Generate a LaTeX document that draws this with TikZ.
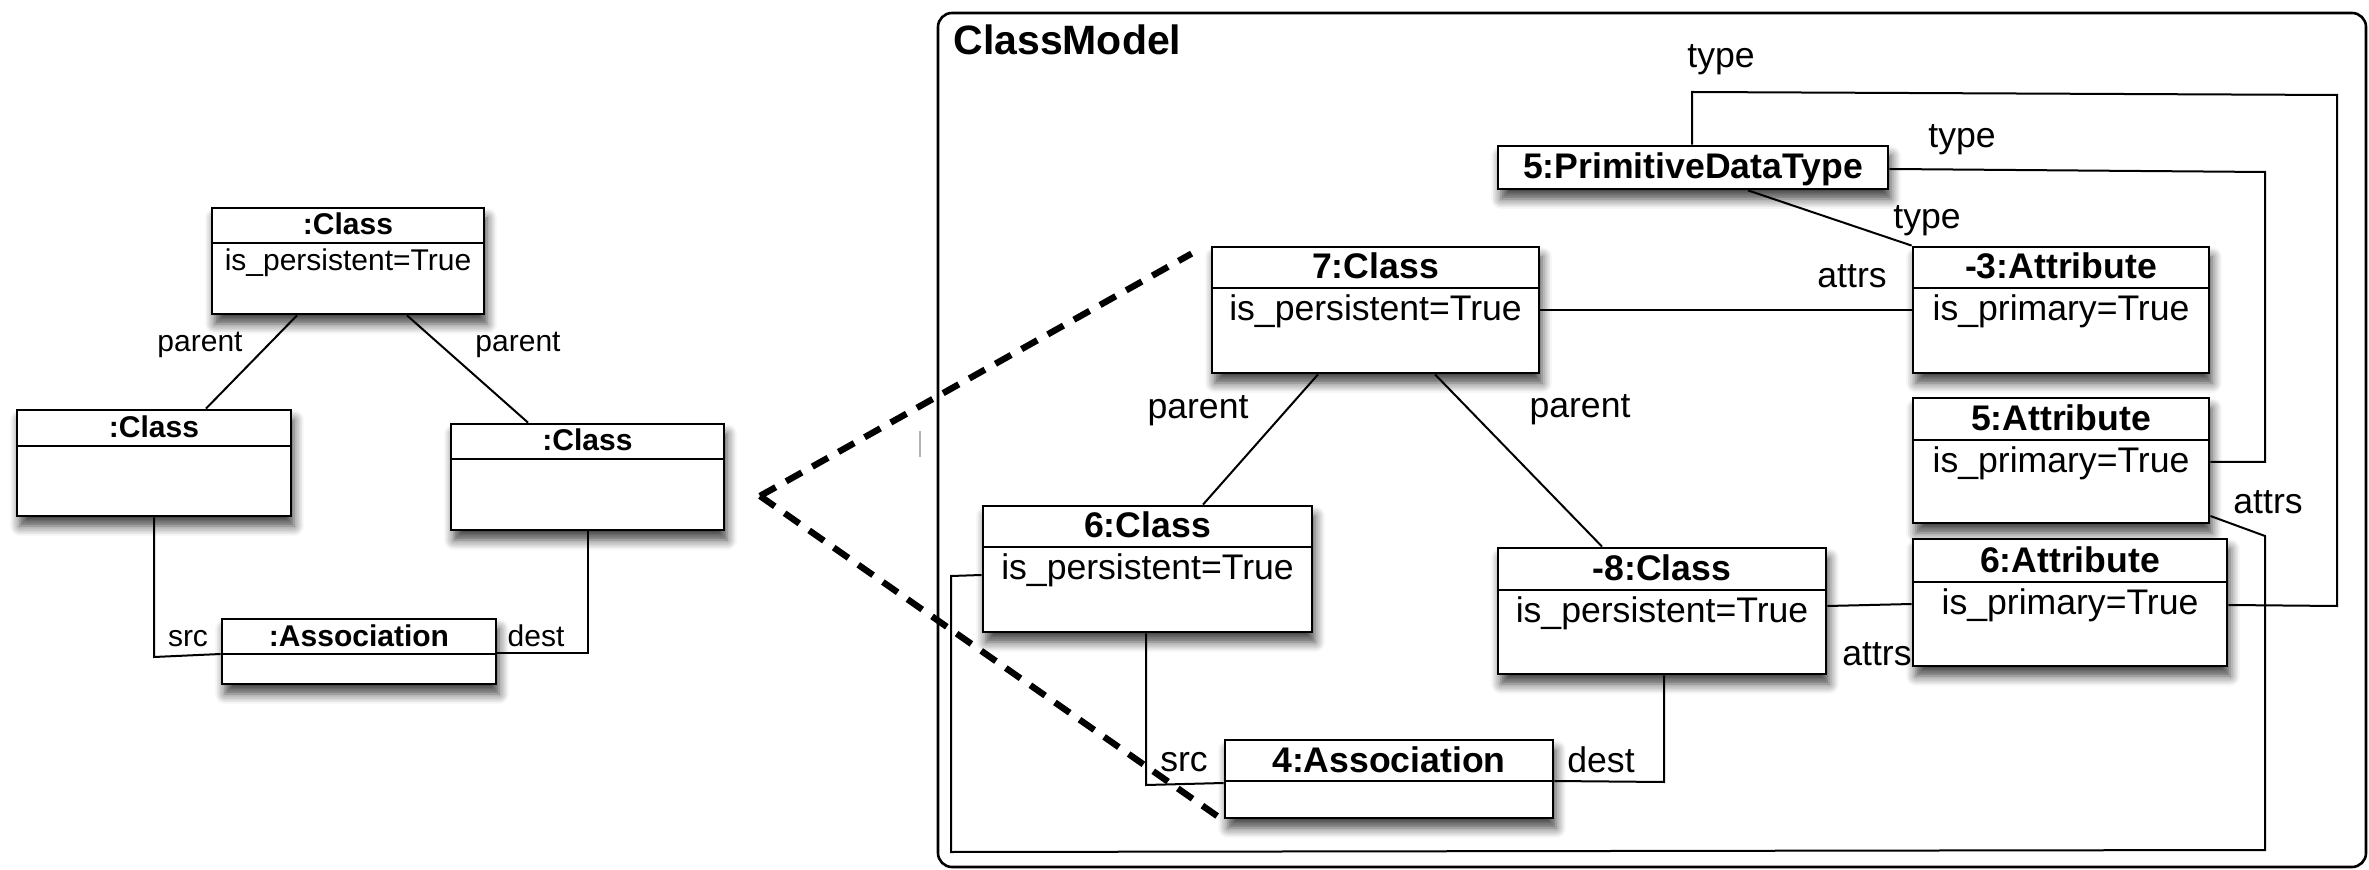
\documentclass[tikz,border=0pt]{standalone}
\usepackage{fontspec}
\setmainfont{Liberation Sans}
\usetikzlibrary{fit,shadows.blur}

% one unit = 0.5pt, y grows downwards
\tikzset{
  objframe/.style={draw, fill=white, line width=1.4pt, inner sep=0pt,
    blur shadow={shadow xshift=1.5pt, shadow yshift=-5pt,
                 shadow blur radius=5pt, shadow blur steps=6, shadow opacity=75}},
  sepline/.style={line width=1.4pt},
  link/.style={line width=1pt},
  objtitle/.style={anchor=base, inner sep=0pt, font=\objfont\bfseries},
  objattr/.style={anchor=base, inner sep=0pt, font=\objfont},
  lbl/.style={anchor=base, inner sep=0pt, font=\objfont},
  zoomline/.style={line width=3.2pt, dash pattern=on 9pt off 6pt},
  modelframe/.style={draw, line width=1.3pt, rounded corners=7pt, inner sep=0pt},
}

% object box: name, x1, y1, x2, y2, separator y, title, attribute
\newcommand\objbox[8]{%
  \node[objframe, fit={(#2,#3) (#4,#5)}] (#1) {};
  \draw[sepline] (#1.west |- 0,#6) -- (#1.east |- 0,#6);
  \pgfmathsetmacro\tyy{#6-\titleoff}%
  \pgfmathsetmacro\ayy{#6+\attroff}%
  \node[objtitle] (#1-t) at (#1.center |- 0,\tyy) {#7};
  \node[objattr] (#1-a) at (#1.center |- 0,\ayy) {#8};
}

\begin{document}
\begin{tikzpicture}[x=0.5pt, y=-0.5pt]
\useasboundingbox (0,0) rectangle (2369,870);

% ---------- pattern on the left ----------
\def\objfont{\fontsize{15}{18}\selectfont}
\def\titleoff{8}
\def\attroff{28}
\objbox{lcT}{212}{208}{484}{314}{243}{:Class}{is\_persistent=True}
\objbox{lcL}{17}{410}{291}{516}{446}{:Class}{}
\objbox{lcR}{451}{424}{724}{530}{459}{:Class}{}
\objbox{lAs}{222}{619}{496}{684}{654}{:Association}{}

\draw[link] (297,0 |- lcT.south) -- (206,0 |- lcL.north);
\draw[link] (407,0 |- lcT.south) -- (528,0 |- lcR.north);
\draw[link] (lcL.south -| 154,0) -- (154,657) -- (lAs.west |- 0,654);
\draw[link] (lcR.south -| 588,0) -- (588,653) -- (lAs.east |- 0,653);

\node[lbl] (lp1) at (200,352) {parent};
\node[lbl] (lp2) at (518,352) {parent};
\node[lbl] (lsrc) at (188,646) {src};
\node[lbl] (ldest) at (536,646) {dest};

% ---------- class model on the right ----------
\node[modelframe, fit={(938,13) (2366,867)}] (model) {};
\node[anchor=base west, inner sep=0pt, font=\fontsize{20.5}{24}\selectfont\bfseries]
  (model-t) at (953,55) {ClassModel};

\def\objfont{\fontsize{17.8}{21}\selectfont}
\def\titleoff{9}
\def\attroff{32.5}
\objbox{c7}{1212}{247}{1539}{373}{288}{7:Class}{is\_persistent=True}
\objbox{a3}{1913}{247}{2209}{373}{288}{-3:Attribute}{is\_primary=True}
\objbox{a5}{1913}{398}{2209}{523}{440}{5:Attribute}{is\_primary=True}
\objbox{a6}{1913}{539}{2227}{666}{582}{6:Attribute}{is\_primary=True}
\objbox{c6}{983}{506}{1312}{632}{547}{6:Class}{is\_persistent=True}
\objbox{c8}{1498}{548}{1826}{674}{590}{-8:Class}{is\_persistent=True}
\objbox{as4}{1225}{740}{1553}{818}{781}{4:Association}{}
\node[objframe, fit={(1498,146) (1888,189)}] (pdt) {};
\node[objtitle] (pdt-t) at (pdt.center |- 0,179) {5:PrimitiveDataType};

% type links
\draw[link] (1692,0 |- pdt.north) -- (1692,92) -- (2337,95) -- (2337,606) -- (a6.east |- 0,605);
\draw[link] (pdt.east |- 0,169) -- (2265,172) -- (2265,462) -- (a5.east |- 0,462);
\draw[link] (1748,0 |- pdt.south) -- (a3.north west);
% attrs links
\draw[link] (c7.east |- 0,310) -- (a3.west |- 0,310);
\draw[link] (c8.east |- 0,606) -- (a6.west |- 0,604);
\draw[link] (c6.west |- 0,575) -- (951,576) -- (951,852) -- (2265,850) -- (2265,536) -- (a5.east |- 0,516);
% parent links
\draw[link] (1318,0 |- c7.south) -- (1203,0 |- c6.north);
\draw[link] (1435,0 |- c7.south) -- (1602,0 |- c8.north);
% src / dest
\draw[link] (c6.south -| 1146,0) -- (1146,785) -- (as4.west |- 0,783);
\draw[link] (c8.south -| 1664,0) -- (1664,782) -- (as4.east |- 0,781);

\node[lbl] (t1) at (1721,68) {type};
\node[lbl] (t2) at (1962,148) {type};
\node[lbl] (t3) at (1927,229) {type};
\node[lbl] (at1) at (1852,288) {attrs};
\node[lbl] (at2) at (1877,665) {attrs};
\node[lbl] (at3) at (2268,514) {attrs};
\node[lbl] (rp1) at (1198,419) {parent};
\node[lbl] (rp2) at (1580,418) {parent};
\node[lbl] (rsrc) at (1184,771) {src};
\node[lbl] (rdest) at (1601,772) {dest};

% zoom-in lines from the pattern to the model
\coordinate (apex) at (760,496);
\draw[zoomline] (apex) -- ([shift={(-19,8)}]c7.north west);
\draw[zoomline] (apex) -- ([shift={(-3,-1)}]as4.south west);

% small cursor mark
\draw[black!30, line width=0.8pt] (920,431) -- (920,457);
\end{tikzpicture}
\end{document}
